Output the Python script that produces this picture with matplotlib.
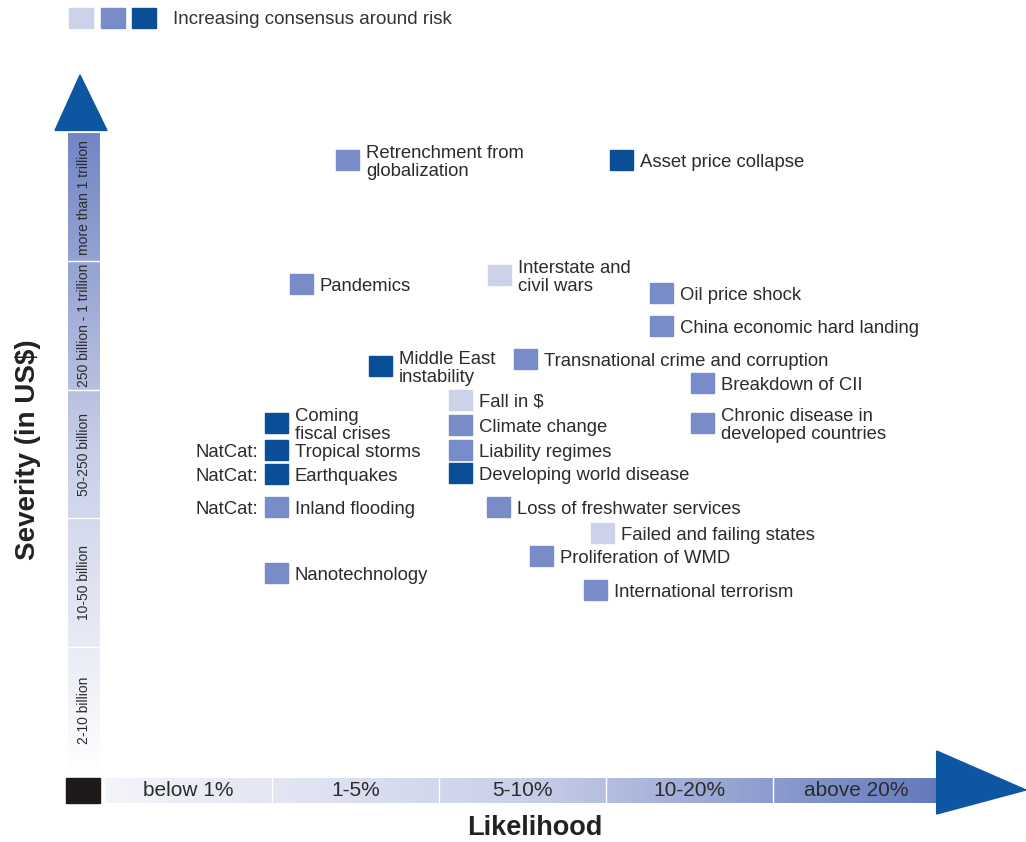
import numpy as np
import matplotlib.pyplot as plt
from matplotlib.patches import Rectangle, Polygon
from matplotlib.colors import LinearSegmentedColormap

plt.rcParams['font.family'] = ['Liberation Sans', 'DejaVu Sans']

# likelihood bands (x) and severity bands (y), bottom to top
likelihood_bands = ["below 1%", "1-5%", "5-10%", "10-20%", "above 20%"]
severity_bands = ["2-10 billion", "10-50 billion", "50-250 billion",
                  "250 billion - 1 trillion", "more than 1 trillion"]

# risks: position in band units, consensus level 0 (low) .. 2 (high)
risks = ["Retrenchment from\nglobalization", "Asset price collapse", "Pandemics",
         "Interstate and\ncivil wars", "Oil price shock", "China economic hard landing",
         "Middle East\ninstability", "Transnational crime and corruption",
         "Breakdown of CII", "Fall in $", "Coming\nfiscal crises", "Climate change",
         "Chronic disease in\ndeveloped countries", "Liability regimes",
         "Tropical storms", "Developing world disease", "Earthquakes",
         "Inland flooding", "Loss of freshwater services", "Failed and failing states",
         "Proliferation of WMD", "Nanotechnology", "International terrorism"]
likelihood = [1.455, 3.09, 1.174, 2.365, 3.335, 3.335, 1.647, 2.515, 3.575, 2.126,
              1.024, 2.126, 3.575, 2.126, 1.024, 2.126, 1.024, 1.024, 2.359, 2.982,
              2.611, 1.024, 2.940]
severity = [4.79, 4.79, 3.824, 3.894, 3.754, 3.497, 3.185, 3.240, 3.053, 2.921,
            2.741, 2.726, 2.741, 2.531, 2.531, 2.352, 2.344, 2.087, 2.087, 1.885,
            1.706, 1.573, 1.441]
consensus = [1, 2, 1, 0, 1, 1, 2, 1, 1, 0, 2, 1, 1, 1, 2, 2, 2, 1, 1, 0, 1, 1, 1]
natcat = ["Tropical storms", "Earthquakes", "Inland flooding"]

level_colors = ["#cbd2ea", "#778cc8", "#0b4e98"]
arrow_color = "#0d56a2"
text_color = "#2b2b2b"

# pixel-like scale: 167 px per likelihood band, 128.4 px per severity band
px_x, px_y = 1 / 167, 1 / 128.4

fig = plt.figure(figsize=(10.26, 8.42), dpi=100)
ax = fig.add_axes([0, 0, 1, 1])
ax.set_xlim(-105 * px_x, 921 * px_x)
ax.set_ylim(-67 * px_y, 775 * px_y)
ax.axis('off')

# horizontal likelihood bar with gradient
hcmap = LinearSegmentedColormap.from_list("h", ["#f4f5fa", "#c9d0e9", "#6479bc"])
grad = np.linspace(0, 1, 256).reshape(1, -1)
ax.imshow(grad, cmap=hcmap, extent=(0, 5, -28 * px_y, -3 * px_y), aspect='auto', zorder=1)
for i, lab in enumerate(likelihood_bands):
    if i > 0:
        ax.plot([i, i], [-28 * px_y, -3 * px_y], color='white', lw=1, zorder=2)
    ax.text(i + 0.5, -16 * px_y, lab, ha='center', va='center', fontsize=15,
            color=text_color, zorder=3)
ax.add_patch(Polygon([(4.98, 24 * px_y), (4.98, -39 * px_y), (921 * px_x, -15 * px_y)],
                     closed=True, color=arrow_color, zorder=3))
ax.add_patch(Rectangle((-39 * px_x, -28 * px_y), 34 * px_x, 25 * px_y,
                       color="#1e1a1a", zorder=3))
ax.text(2.575, -53 * px_y, "Likelihood", ha='center', va='center', fontsize=19.5,
        fontweight='bold', color="#222222")

# vertical severity bar with gradient
vcmap = LinearSegmentedColormap.from_list("v", ["#ffffff", "#c8cfe8", "#7386c4"])
vgrad = np.linspace(0, 1, 256).reshape(-1, 1)
ax.imshow(vgrad, cmap=vcmap, origin='lower', extent=(-37 * px_x, -5 * px_x, 0, 5),
          aspect='auto', zorder=1)
for j, lab in enumerate(severity_bands):
    if j > 0:
        ax.plot([-37 * px_x, -5 * px_x], [j, j], color='white', lw=1, zorder=2)
    ax.text(-21 * px_x, j + 0.5, lab, ha='center', va='center', rotation=90, fontsize=10,
            color=text_color, zorder=3)
ax.add_patch(Polygon([(-50 * px_x, 5.02), (2 * px_x, 5.02), (-25 * px_x, 700 * px_y)],
                     closed=True, color=arrow_color, zorder=3))
ax.text(-77 * px_x, 2.53, "Severity (in US$)", ha='center', va='center', rotation=90,
        fontsize=20, fontweight='bold', color="#222222")

# consensus legend
for k, c in enumerate(level_colors):
    ax.add_patch(Rectangle(((-36 + 31.5 * k) * px_x, 747 * px_y), 24 * px_x, 20 * px_y,
                           color=c))
ax.text(68 * px_x, 755 * px_y, "Increasing consensus around risk", ha='left', va='center',
        fontsize=13.5, color="#333333")

# risk squares and labels
w, h = 23 * px_x, 20 * px_y
dy = 2.5 * px_y
for name, lx, sy, lev in zip(risks, likelihood, severity, consensus):
    ax.add_patch(Rectangle((lx - w / 2, sy - h / 2), w, h, color=level_colors[lev], zorder=4))
    ax.text(lx + w / 2 + 7 * px_x, sy - dy, name, ha='left', va='center', fontsize=13.3,
            color=text_color, linespacing=1.08, zorder=5)
    if name in natcat:
        ax.text(lx - w / 2 - 6 * px_x, sy - dy, "NatCat:", ha='right', va='center',
                fontsize=13.3, color=text_color, zorder=5)

fig.savefig("out.png", dpi=100)
